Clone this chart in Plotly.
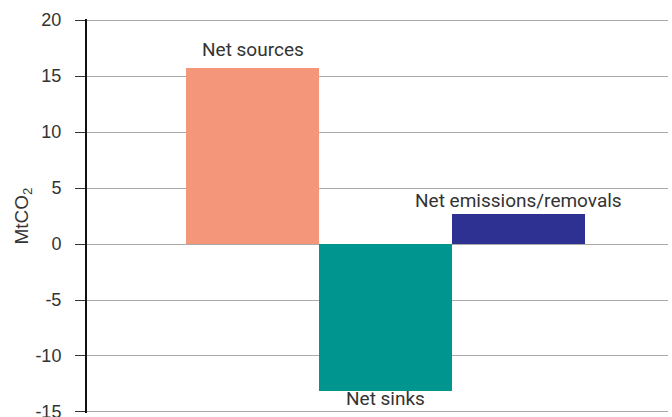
import plotly.graph_objects as go

categories = ["Net sources", "Net sinks", "Net emissions/removals"]
values = [15.7, -13.1, 2.65]
colors = ["#F4967A", "#00968F", "#2E3192"]
tick_vals = [-15, -10, -5, 0, 5, 10, 15, 20]

label_shift = {"Net sources": 5, "Net sinks": 6, "Net emissions/removals": 0}

fig = go.Figure()
fig.add_trace(go.Bar(
    x=categories, y=values, marker=dict(color=colors, line=dict(width=0)),
    width=1.0, hoverinfo="skip",
))

for c, v in zip(categories, values):
    fig.add_annotation(
        x=c, y=v, text=c, showarrow=False,
        yanchor="bottom" if v >= 0 else "top",
        yshift=label_shift[c],
        font=dict(family="Roboto", size=19, color="#333333"),
    )

fig.update_layout(
    width=672, height=417,
    margin=dict(l=87, r=4, t=19, b=4),
    paper_bgcolor="white", plot_bgcolor="white",
    showlegend=False, bargap=0,
    xaxis=dict(
        type="category", range=[-1.244, 3.12], automargin=False,
        showticklabels=False, showgrid=False, zeroline=False, showline=False,
        ticks="",
    ),
    yaxis=dict(
        range=[-15.09, 20.09], tickvals=tick_vals, ticktext=[str(t) for t in tick_vals],
        automargin=False,
        showgrid=True, gridcolor="#aaaaaa", gridwidth=1,
        zeroline=False, showline=True, linecolor="#111111", linewidth=2,
        ticks="outside", ticklen=10, tickcolor="#333333", tickwidth=1,
        ticklabelstandoff=10, ticklabeloverflow="allow",
        tickfont=dict(family="Liberation Sans, Arial", size=18, color="#333333"),
        title=dict(text="MtCO<sub>2</sub>", font=dict(family="Liberation Sans, Arial", size=19, color="#333333"), standoff=2),
    ),
)

fig.write_html(
    "out.html",
    config={"displayModeBar": False},
    post_script="document.body.style.margin='0';document.body.style.overflow='hidden';",
)
